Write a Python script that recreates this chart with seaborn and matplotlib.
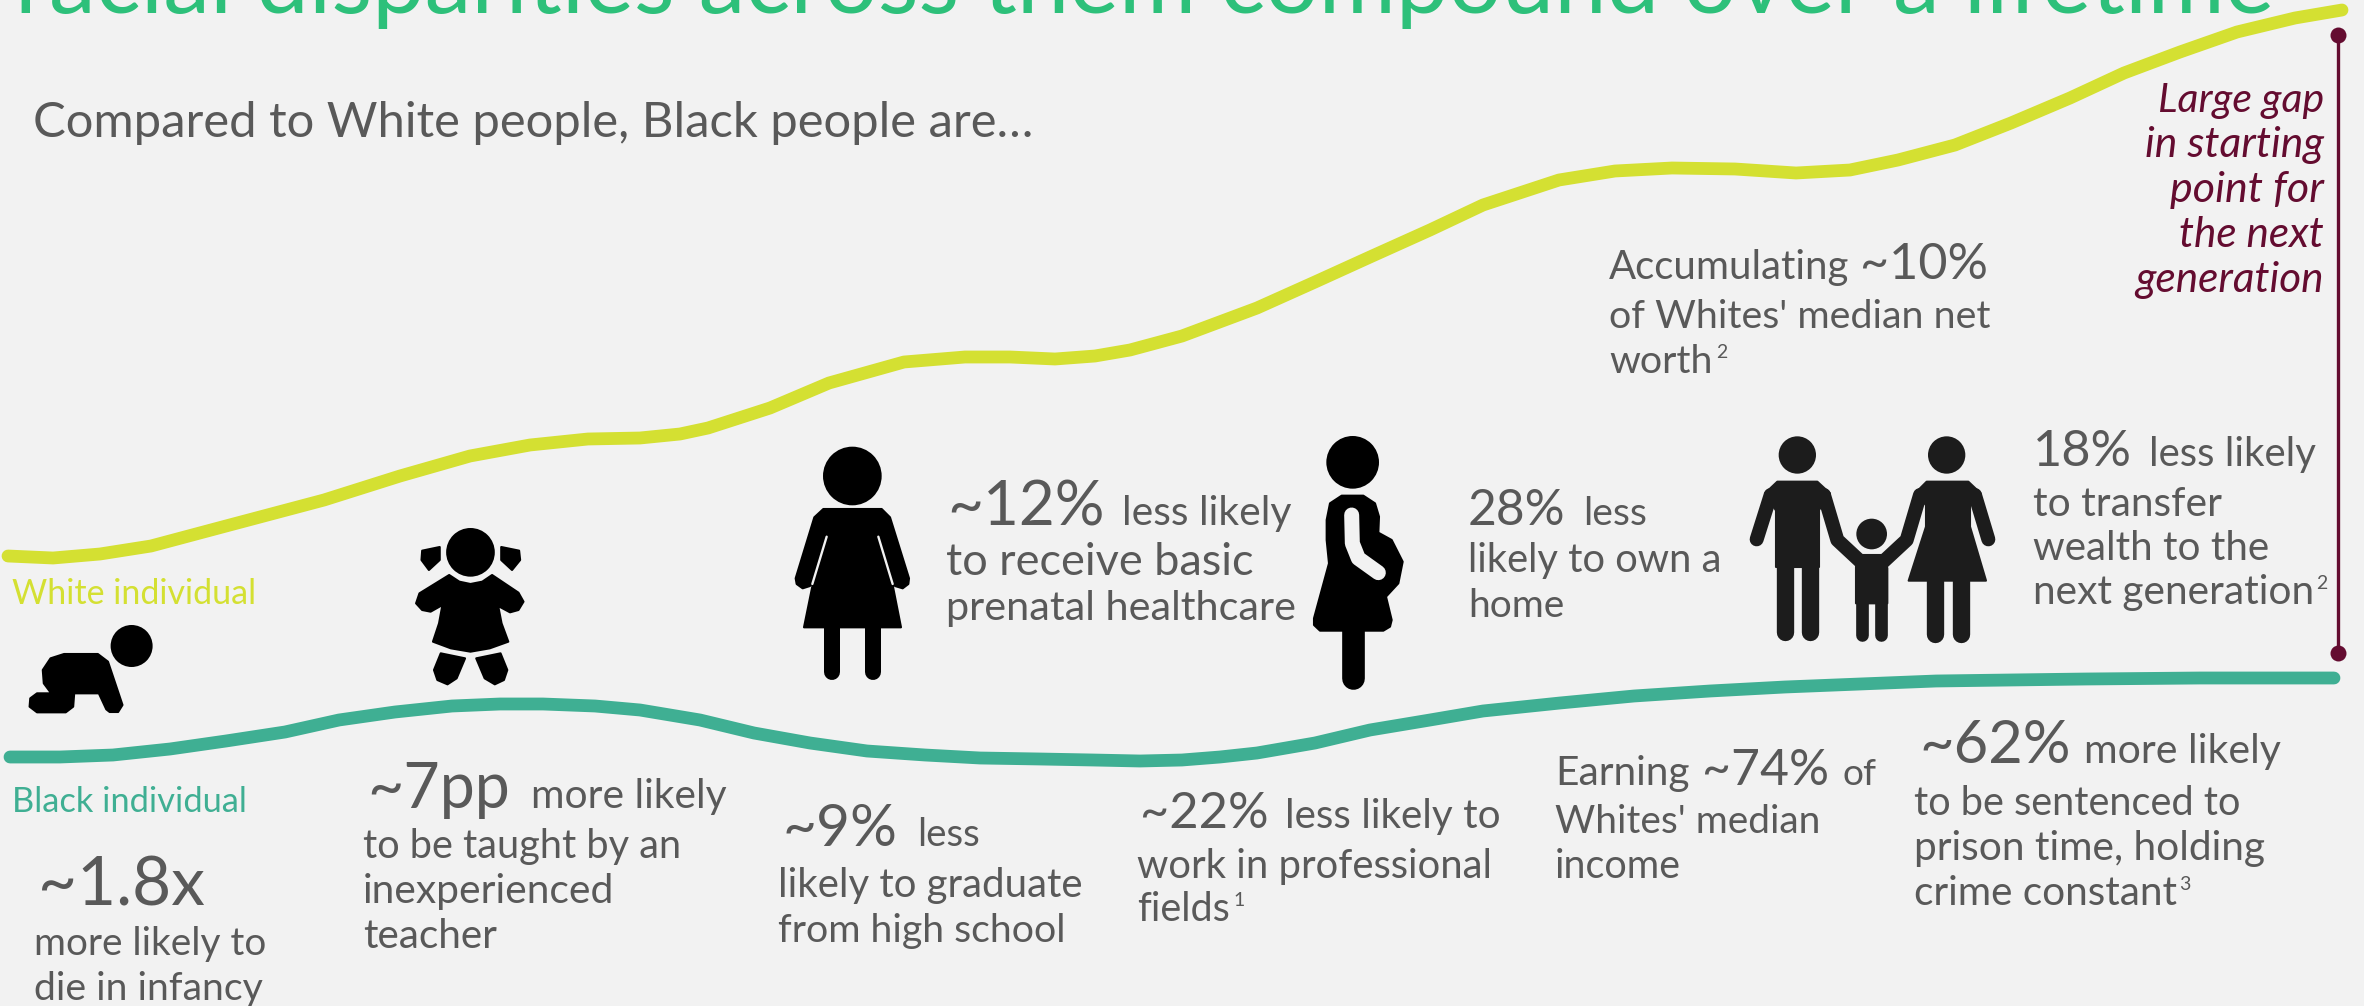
import matplotlib
matplotlib.use("Agg")
import matplotlib.pyplot as plt
from matplotlib.patches import Circle, Polygon
import pandas as pd
import seaborn as sns

# Lifetime trajectories of wealth, left (birth) to right (next generation)
white_x = [8, 53, 100, 151, 226, 324, 400, 470, 530, 588, 640, 680, 708, 770, 829, 904, 965, 1010,
           1055, 1095, 1130, 1182, 1257, 1315, 1370, 1430, 1483, 1559, 1615, 1672, 1735, 1796, 1850,
           1898, 1955, 2011, 2070, 2124, 2180, 2237, 2295, 2342]
white_y = [556, 558, 554, 546, 526, 500, 476, 456, 445, 439, 438, 434, 428, 408, 383, 362, 357, 357,
           359, 356, 350, 336, 308, 282, 257, 230, 205, 180, 171, 168, 169, 173, 170,
           160, 145, 123, 98, 73, 52, 32, 18, 10]
black_x = [10, 60, 113, 170, 226, 285, 339, 395, 452, 500, 543, 595, 640, 700, 754, 810, 867, 925,
           980, 1040, 1093, 1140, 1182, 1220, 1257, 1315, 1370, 1430, 1483, 1560, 1634, 1710, 1785,
           1860, 1936, 2010, 2086, 2200, 2334]
black_y = [757, 757, 755, 749, 741, 732, 720, 712, 706, 704, 704, 706, 710, 720, 733, 743, 751, 755,
           758, 759, 760, 761, 760, 757, 753, 743, 730, 720, 711, 703, 696, 691, 687,
           684, 681, 680, 679, 678, 678]
gap_x = [2338, 2338]
gap_y = [35, 653]

BACKGROUND = "#F2F2F2"
TITLE_GREEN = "#2DC07A"
TEXT_GREY = "#595959"
WHITE_LINE = "#D4E032"
BLACK_LINE = "#3FAF93"
MAROON = "#640C30"
FAMILY_INK = "#1C1C1C"

sns.set_theme(style="white")
plt.rcParams["font.family"] = ["Lato", "DejaVu Sans"]

fig = plt.figure(figsize=(23.64, 10.06), dpi=100, facecolor=BACKGROUND)
ax = fig.add_axes([0, 0, 1, 1], facecolor=BACKGROUND)

curves = pd.concat([
    pd.DataFrame({"x": white_x, "y": white_y, "group": "White individual"}),
    pd.DataFrame({"x": black_x, "y": black_y, "group": "Black individual"}),
])
sns.lineplot(data=curves, x="x", y="y", hue="group", sort=False, estimator=None, legend=False,
             palette={"White individual": WHITE_LINE, "Black individual": BLACK_LINE},
             linewidth=9.2, ax=ax)
for ln in ax.get_lines():
    ln.set_solid_capstyle("round")
    ln.set_solid_joinstyle("round")

sns.lineplot(x=gap_x, y=gap_y, color=MAROON, linewidth=2.4, estimator=None, sort=False,
             marker="o", markersize=11.5, markeredgewidth=0, ax=ax)

ax.set_xlim(0, 2364)
ax.set_ylim(1006, 0)
ax.axis("off")

renderer = fig.canvas.get_renderer()


def run(y, *segments, color=TEXT_GREY, style="normal"):
    """Draw text segments on one baseline; each is scaled to span x0..x1."""
    for text, x0, x1 in segments:
        t = ax.text(x0, y, text, fontsize=24, color=color, style=style, va="baseline", ha="left")
        width = t.get_window_extent(renderer).width
        t.set_fontsize(24 * (x1 - x0) / width)


def sup(x, y, text):
    ax.text(x, y, text, fontsize=14, color=TEXT_GREY, va="baseline", ha="left")


# Headline, cut by the top edge of the slide
run(13, ("racial disparities across them compound over a lifetime", 15, 2277), color=TITLE_GREEN)
run(137, ("Compared to White people, Black people are…", 33, 1036))

run(604, ("White individual", 12, 256), color=WHITE_LINE)
run(812, ("Black individual", 12, 247), color=BLACK_LINE)

# Gap annotation, right aligned against the bracket
for base, text, x0 in [(112, "Large gap", 2158), (157, "in starting", 2145), (202, "point for", 2170),
                       (247, "the next", 2179), (292, "generation", 2135)]:
    run(base, (text, x0, 2324), color=MAROON, style="italic")

# Callouts above the lower curve
run(525, ("~12%", 947, 1105), ("less likely", 1122, 1292))
run(575, ("to receive basic", 946, 1254))
run(620, ("prenatal healthcare", 946, 1297))

run(525, ("28%", 1468, 1566), ("less", 1583, 1647))
run(572, ("likely to own a", 1468, 1722))
run(617, ("home", 1468, 1564))

run(279, ("Accumulating", 1609, 1849), ("~10%", 1860, 1988))
run(328, ("of Whites' median net", 1609, 1991))
run(373, ("worth", 1609, 1713))
sup(1716, 358, "2")

run(466, ("18%", 2033, 2132), ("less likely", 2149, 2316))
run(516, ("to transfer", 2033, 2222))
run(560, ("wealth to the", 2033, 2269))
run(604, ("next generation", 2033, 2314))
sup(2316, 589, "2")

# Callouts below the lower curve
run(905, ("~1.8x", 38, 205))
run(955, ("more likely to", 34, 266))
run(1000, ("die in infancy", 34, 263))

run(808, ("~7pp", 367, 510), ("more likely", 531, 727))
run(858, ("to be taught by an", 363, 682))
run(903, ("inexperienced", 363, 614))
run(948, ("teacher", 363, 497))

run(846, ("~9%", 782, 897), ("less", 917, 980))
run(897, ("likely to graduate", 778, 1083))
run(942, ("from high school", 778, 1066))

run(828, ("~22%", 1140, 1269), ("less likely to", 1285, 1501))
run(878, ("work in professional", 1137, 1493))
run(921, ("fields", 1137, 1230))
sup(1233, 906, "1")

run(785, ("Earning", 1555, 1690), ("~74%", 1702, 1829), ("of", 1843, 1877))
run(833, ("Whites' median", 1555, 1820))
run(878, ("income", 1555, 1681))

run(763, ("~62%", 1919, 2071), ("more likely", 2084, 2281))
run(815, ("to be sentenced to", 1914, 2241))
run(860, ("prison time, holding", 1914, 2266))
run(905, ("crime constant", 1914, 2177))
sup(2179, 890, "3")


class Icon:
    """Pictogram drawn in a local grid that is placed on the slide."""

    def __init__(self, ox, oy, color="black", sx=1 / 3, sy=1 / 3):
        self.ox, self.oy, self.color, self.sx, self.sy = ox, oy, color, sx, sy

    def _pt(self, p):
        return (self.ox + p[0] * self.sx, self.oy + p[1] * self.sy)

    def head(self, x, y, r):
        ax.add_patch(Circle(self._pt((x, y)), r * self.sy, fc=self.color, ec="none", zorder=3))

    def body(self, pts):
        ax.add_patch(Polygon([self._pt(p) for p in pts], closed=True, fc=self.color, ec=self.color,
                             lw=1.5, joinstyle="round", zorder=3))

    def limb(self, pts, width, color=None):
        xs, ys = zip(*[self._pt(p) for p in pts])
        ax.plot(xs, ys, color=color or self.color, lw=width * self.sy * 0.72,
                solid_capstyle="round", solid_joinstyle="round", zorder=4 if color else 3)


# Crawling baby
baby = Icon(10, 510, sx=1 / 2.96)
baby.head(360, 408, 63)
baby.body([(160, 432), (260, 432), (290, 455), (333, 585), (320, 606), (295, 606), (285, 598), (263, 550),
           (190, 550), (187, 590), (165, 607), (80, 607), (58, 590), (60, 565), (80, 550), (122, 550),
           (100, 520), (97, 480), (120, 445)])

# Toddler
girl = Icon(10, 510, sx=1 / 2.96)
girl.head(1363, 127, 73)
girl.body([(1272, 111), (1272, 150), (1240, 180), (1218, 150), (1220, 122)])
girl.body([(1454, 111), (1454, 150), (1486, 180), (1510, 150), (1507, 122)])
girl.body([(1300, 195), (1330, 215), (1363, 222), (1398, 215), (1427, 195), (1505, 248), (1520, 275),
           (1505, 300), (1480, 307), (1445, 288), (1455, 340), (1475, 395), (1420, 415), (1363, 425),
           (1305, 415), (1252, 395), (1270, 340), (1280, 285), (1245, 305), (1220, 300), (1202, 280),
           (1212, 250)])
girl.body([(1275, 430), (1347, 445), (1322, 505), (1295, 523), (1265, 510), (1255, 480)])
girl.body([(1452, 430), (1380, 445), (1405, 505), (1435, 523), (1462, 510), (1472, 480)])

# Woman
woman = Icon(780, 430)
woman.head(217, 138, 88)
woman.body([(130, 237), (305, 237), (330, 262), (387, 445), (385, 462), (368, 475), (345, 468), (333, 440),
             (363, 592), (72, 592), (103, 440), (90, 468), (68, 475), (50, 462), (47, 445), (103, 262)])
woman.limb([(140, 320), (97, 462)], 7, BACKGROUND)
woman.limb([(295, 320), (338, 462)], 7, BACKGROUND)
woman.limb([(157, 592), (157, 725)], 48)
woman.limb([(278, 592), (278, 725)], 48)

# Pregnant woman
mother = Icon(1300, 430)
mother.head(158, 97, 79)
mother.body([(80, 270), (90, 220), (125, 197), (190, 197), (225, 220), (237, 260), (235, 308), (275, 330),
             (308, 395), (295, 460), (258, 500), (275, 570), (270, 590), (250, 602), (60, 602), (42, 585),
             (42, 565), (87, 400), (80, 330)])
mother.limb([(155, 255), (157, 340), (175, 385), (235, 428)], 45, BACKGROUND)
mother.limb([(158, 600), (158, 745)], 68)

# Family holding hands
family = Icon(1740, 430, FAMILY_INK)
family.head(172, 75, 56)
family.body([(75, 190), (112, 155), (232, 155), (270, 190), (237, 240), (107, 240)])
family.body([(107, 230), (237, 230), (237, 410), (107, 410)])
family.limb([(92, 195), (50, 328)], 42)
family.limb([(252, 195), (292, 330), (365, 398)], 42)
family.limb([(134, 400), (134, 605)], 52)
family.limb([(210, 400), (210, 605)], 52)
family.head(395, 312, 46)
family.body([(348, 410), (365, 375), (432, 375), (442, 415), (442, 520), (348, 520)])
family.limb([(367, 510), (367, 615)], 38)
family.limb([(423, 510), (423, 615)], 38)
family.head(620, 75, 56)
family.body([(525, 190), (560, 155), (685, 155), (722, 190), (690, 225), (690, 290), (738, 452), (506, 452),
             (558, 290), (558, 225)])
family.limb([(705, 195), (745, 328)], 42)
family.limb([(540, 195), (500, 330), (430, 395)], 42)
family.limb([(585, 452), (585, 612)], 52)
family.limb([(662, 452), (662, 612)], 52)

fig.savefig("out.png", dpi=100, facecolor=BACKGROUND)
